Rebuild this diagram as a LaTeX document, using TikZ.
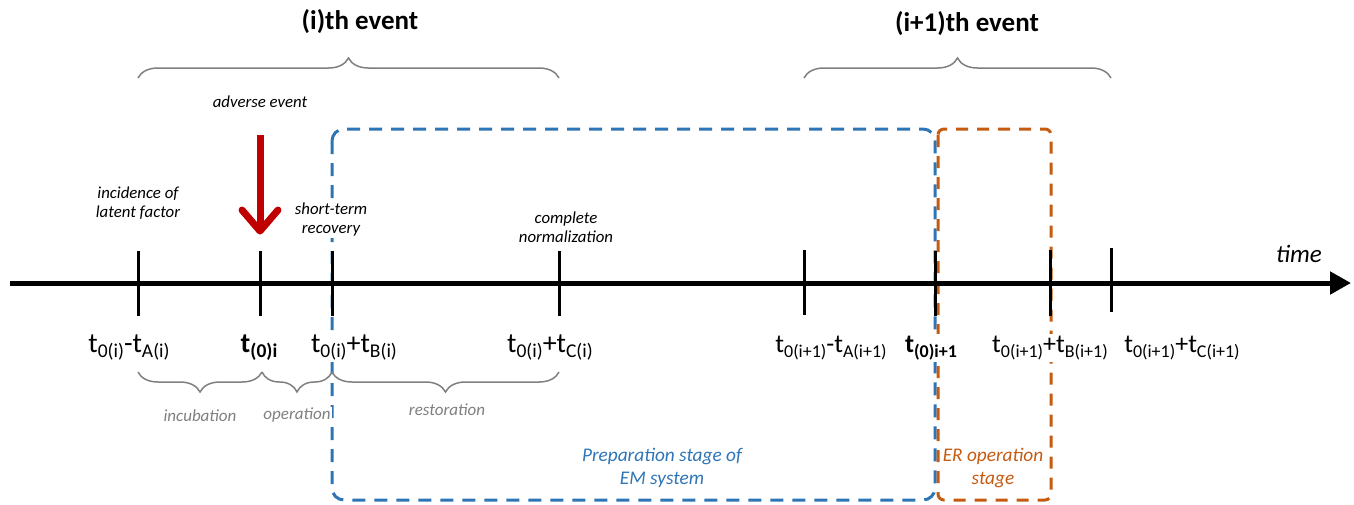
\documentclass[tikz,border=0pt]{standalone}
\usepackage{fontspec}
\setmainfont{Carlito}
\usetikzlibrary{arrows.meta,decorations.pathreplacing}
\definecolor{emblue}{HTML}{2E75B6}
\definecolor{erorange}{HTML}{C55A11}
\definecolor{bracegrey}{HTML}{7F7F7F}
\definecolor{notegrey}{HTML}{808080}
\definecolor{arrowred}{HTML}{C00000}
\newcommand\sbx[1]{\raisebox{-5pt}{\fontsize{18}{18}\selectfont #1}}
\newcommand\sbxl[1]{\raisebox{-5.5pt}{\fontsize{19.5}{19.5}\selectfont #1}}
\begin{document}
\begin{tikzpicture}[x=1pt,y=-1pt,
  tickmark/.style={line width=3pt},
  tlabel/.style={anchor=base, font=\fontsize{26}{26}\selectfont, fill=white, inner sep=2pt},
  tlabelbig/.style={anchor=base, font=\fontsize{28}{28}\selectfont, fill=white, inner sep=2pt},
  note/.style={font=\fontsize{16.8}{19}\selectfont\itshape, align=center, fill=white, inner sep=1pt},
  greynote/.style={font=\fontsize{17}{19}\selectfont\itshape, text=notegrey, fill=white, inner sep=1pt},
  stagenote/.style={font=\fontsize{19.3}{23}\selectfont\itshape, align=center, inner sep=1pt},
  eventtitle/.style={font=\fontsize{27}{27}\selectfont\bfseries},
  bracebase/.style={draw=bracegrey, line width=1.5pt, decorate},
  topbrace/.style={bracebase, decoration={brace, amplitude=20pt, aspect=0.5}},
  botbrace/.style={bracebase, decoration={brace, mirror, amplitude=20pt, aspect=0.5}},
  emboxstyle/.style={draw=emblue, line width=3pt, dash pattern=on 13pt off 9pt, rounded corners=12pt},
  erboxstyle/.style={draw=erorange, line width=3pt, dash pattern=on 12pt off 9pt, rounded corners=6pt},
  redarrow/.style={draw=arrowred, line width=7pt}
]
\useasboundingbox (0,0) rectangle (1354,504);

% stage boxes
\draw[emboxstyle] (332,129) rectangle (935,500);
\draw[erboxstyle] (938,129) rectangle (1051,500);

% axis
\coordinate (axL) at (10,283);
\coordinate (axR) at (1351,283);
\draw[line width=5pt, -{Triangle[length=21pt,width=22pt]}] (axL) -- (axR);

% tick coordinates
\foreach \nm/\xx/\ya/\yb in {tA/138/251/316, tB/260/251/316, tC/332/251/316, tD/559/251/316,
                             tE/804/250/315, tF/935/251/316, tG/1050/250/316, tH/1111/248/312}{
  \coordinate (\nm top) at (\xx,\ya);
  \coordinate (\nm bot) at (\xx,\yb);
  \coordinate (\nm) at (\xx,283);
}
\foreach \nm in {tA,tB,tC,tD,tE,tF,tG,tH}{
  \draw[tickmark] (\nm top) -- (\nm bot);
}

% top braces
\coordinate (bA) at (138,78);
\coordinate (bD) at (559,78);
\coordinate (bE) at (804,78);
\coordinate (bH) at (1111,78);
\draw[topbrace] (bA) -- (bD);
\draw[topbrace] (bE) -- (bH);

% bottom braces
\coordinate (cA) at (138,372);
\coordinate (cB) at (262,372);
\coordinate (cC) at (332,372);
\coordinate (cD) at (559,372);
\draw[botbrace] (cA) -- (cB);
\draw[botbrace] (cB) -- (cC);
\draw[botbrace] (cC) -- (cD);

% red arrow
\coordinate (redtop) at (260,135);
\coordinate (redtip) at (260,231);
\draw[redarrow] (redtop) -- ([yshift=4pt]redtip);
\draw[redarrow, line join=round, line cap=round]
  ([shift={(-18,-21)}]redtip) -- (redtip) -- ([shift={(18,-21)}]redtip);

% titles
\node[eventtitle] (ev1) at (360,22) {(i)th event};
\node[eventtitle] (ev2) at (967,24) {(i+1)th event};

% notes above axis
\node[note, anchor=base] (adv) at (260,107) {adverse event};
\node[note] (inc) at (138,203) {incidence of\\latent factor};
\node[note] (str) at (331,220) {short-term\\recovery};
\node[note] (cpl) at (566,227) {complete\\normalization};
\node[font=\fontsize{25}{25}\selectfont\itshape, anchor=base] (time) at (1299,262) {time};

% time labels
\node[tlabelbig] (lA) at (129,352) {t\sbxl{0(i)}-t\sbxl{A(i)}};
\node[tlabelbig] (lB) at (259,352) {\textbf{t\sbxl{\bfseries(0)i}}};
\node[tlabelbig] (lC) at (354,352) {t\sbxl{0(i)}+t\sbxl{B(i)}};
\node[tlabelbig] (lD) at (550,352) {t\sbxl{0(i)}+t\sbxl{C(i)}};
\node[tlabel] (lE) at (831,352) {t\sbx{0(i+1)}-t\sbx{A(i+1)}};
\node[tlabel] (lF) at (931,352) {\textbf{t\sbx{\bfseries(0)i+1}}};
\node[tlabel] (lG) at (1050,352) {t\sbx{0(i+1)}+t\sbx{B(i+1)}};
\node[tlabel] (lH) at (1182,352) {t\sbx{0(i+1)}+t\sbx{C(i+1)}};

% phase labels
\node[greynote] (incub) at (200,416) {incubation};
\node[greynote] (oper) at (297,415) {operation};
\node[greynote] (resto) at (447,410) {restoration};

% stage labels
\node[stagenote, text=emblue] (prep) at (662,468) {Preparation stage of\\EM system};
\node[stagenote, text=erorange] (erop) at (993,468) {ER operation\\stage};
\end{tikzpicture}
\end{document}
